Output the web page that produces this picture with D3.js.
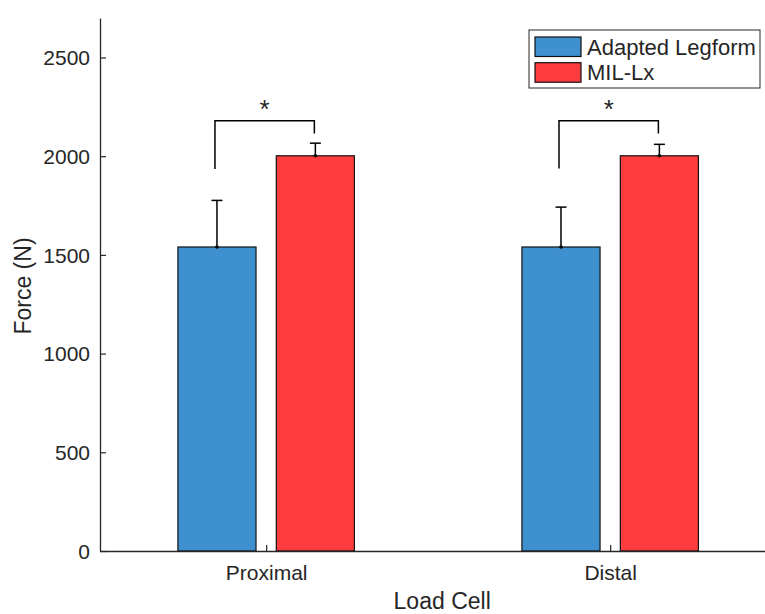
<!DOCTYPE html>
<html>
<head>
<meta charset="utf-8">
<script src="https://cdn.jsdelivr.net/npm/d3@7"></script>
<style>
  body { margin: 0; background: #fff; }
  text { font-family: "Liberation Sans", Arial, Helvetica, sans-serif; fill: #262626; }
</style>
</head>
<body>
<svg id="chart" width="765" height="614"></svg>
<script>
(function () {
    'use strict';

    var categories = ["Proximal", "Distal"],
        seriesNames = ["Adapted Legform", "MIL-Lx"],
        seriesColours = ["#3f90cf", "#ff3c3e"],
        legformMean = [1540, 1540],
        legformErr = [236, 202],
        milMean = [2002, 2002],
        milErr = [64, 58],
        yTicks = [0, 500, 1000, 1500, 2000, 2500],
        bracketTop = [2180, 2180],
        bracketLeftEnd = [1935, 1937],
        bracketRightEnd = [2115, 2115];

    var left = 100, right = 765, top = 18, bottom = 551,
        barWidth = 0.227, barOffset = 0.143;

    var svg = d3.select("#chart");

    var x = d3.scaleLinear().domain([0.517, 2.45]).range([left, right]);
    var y = d3.scaleLinear().domain([0, 2700]).range([bottom, top]);

    var bars = [];
    categories.forEach(function (c, i) {
        bars.push({ pos: i + 1 - barOffset, value: legformMean[i], err: legformErr[i], colour: seriesColours[0] });
        bars.push({ pos: i + 1 + barOffset, value: milMean[i], err: milErr[i], colour: seriesColours[1] });
    });

    // error bars first so the bar covers the lower half
    svg.selectAll("line.err")
        .data(bars)
        .enter()
        .append("line")
        .attr("class", "err")
        .attr("x1", function (d) { return x(d.pos); })
        .attr("x2", function (d) { return x(d.pos); })
        .attr("y1", function (d) { return y(d.value); })
        .attr("y2", function (d) { return y(d.value + d.err); })
        .attr("stroke", "#000")
        .attr("stroke-width", 1.5);

    svg.selectAll("line.cap")
        .data(bars)
        .enter()
        .append("line")
        .attr("class", "cap")
        .attr("x1", function (d) { return x(d.pos) - 5.5; })
        .attr("x2", function (d) { return x(d.pos) + 5.5; })
        .attr("y1", function (d) { return y(d.value + d.err); })
        .attr("y2", function (d) { return y(d.value + d.err); })
        .attr("stroke", "#000")
        .attr("stroke-width", 1.5);

    svg.selectAll("rect.bar")
        .data(bars)
        .enter()
        .append("rect")
        .attr("class", "bar")
        .attr("x", function (d) { return x(d.pos - barWidth / 2); })
        .attr("width", function (d) { return x(d.pos + barWidth / 2) - x(d.pos - barWidth / 2); })
        .attr("y", function (d) { return y(d.value); })
        .attr("height", function (d) { return y(0) - y(d.value); })
        .attr("fill", function (d) { return d.colour; })
        .attr("stroke", "#111")
        .attr("stroke-width", 1.2);

    svg.selectAll("circle.dot")
        .data(bars)
        .enter()
        .append("circle")
        .attr("cx", function (d) { return x(d.pos); })
        .attr("cy", function (d) { return y(d.value); })
        .attr("r", 1.8)
        .attr("fill", "#000");

    // axes
    var yAxis = d3.axisLeft(y).tickValues(yTicks).tickFormat(d3.format("d"))
        .tickSizeInner(-6).tickSizeOuter(0).tickPadding(10);
    var gy = svg.append("g").attr("transform", "translate(" + left + ",0)").call(yAxis);
    var xAxis = d3.axisBottom(x).tickValues([1, 2]).tickFormat(function (d) { return categories[d - 1]; })
        .tickSizeInner(-6).tickSizeOuter(0).tickPadding(14);
    var gx = svg.append("g").attr("transform", "translate(0," + bottom + ")").call(xAxis);

    [gx, gy].forEach(function (g) {
        g.select(".domain").attr("stroke", "#262626").attr("stroke-width", 1.3);
        g.selectAll(".tick line").attr("stroke", "#262626").attr("stroke-width", 1.2);
        g.selectAll(".tick text").style("font-size", "21px").attr("fill", "#262626");
    });
    gy.selectAll(".tick text").attr("dy", "0.35em");

    svg.append("text")
        .attr("x", x(1.5) + 4)
        .attr("y", 609)
        .attr("text-anchor", "middle")
        .style("font-size", "23px")
        .text("Load Cell");

    svg.append("text")
        .attr("transform", "translate(31,286) rotate(-90)")
        .attr("text-anchor", "middle")
        .style("font-size", "23px")
        .text("Force (N)");

    // significance brackets
    categories.forEach(function (c, i) {
        var xl = x(i + 1 - barOffset) - 2, xr = x(i + 1 + barOffset) - 1;
        svg.append("path")
            .attr("d", "M" + xl + "," + y(bracketLeftEnd[i]) + "V" + y(bracketTop[i]) +
                "H" + xr + "V" + y(bracketRightEnd[i]))
            .attr("fill", "none")
            .attr("stroke", "#000")
            .attr("stroke-width", 1.5);
        svg.append("text")
            .attr("x", (xl + xr) / 2)
            .attr("y", 118)
            .attr("text-anchor", "middle")
            .style("font-size", "26px")
            .attr("fill", "#000")
            .text("*");
    });

    // legend
    var legend = svg.append("g").attr("transform", "translate(529,30)");
    legend.append("rect")
        .attr("width", 231).attr("height", 58)
        .attr("fill", "#fff").attr("stroke", "#262626").attr("stroke-width", 1);
    seriesNames.forEach(function (name, i) {
        legend.append("rect")
            .attr("x", 6).attr("y", 7 + i * 25.7)
            .attr("width", 46).attr("height", 19.5)
            .attr("fill", seriesColours[i]).attr("stroke", "#111").attr("stroke-width", 1.2);
        legend.append("text")
            .attr("x", 58).attr("y", 17 + i * 25.7)
            .attr("dy", "0.35em")
            .style("font-size", "22px")
            .text(name);
    });
})();
</script>
</body>
</html>
